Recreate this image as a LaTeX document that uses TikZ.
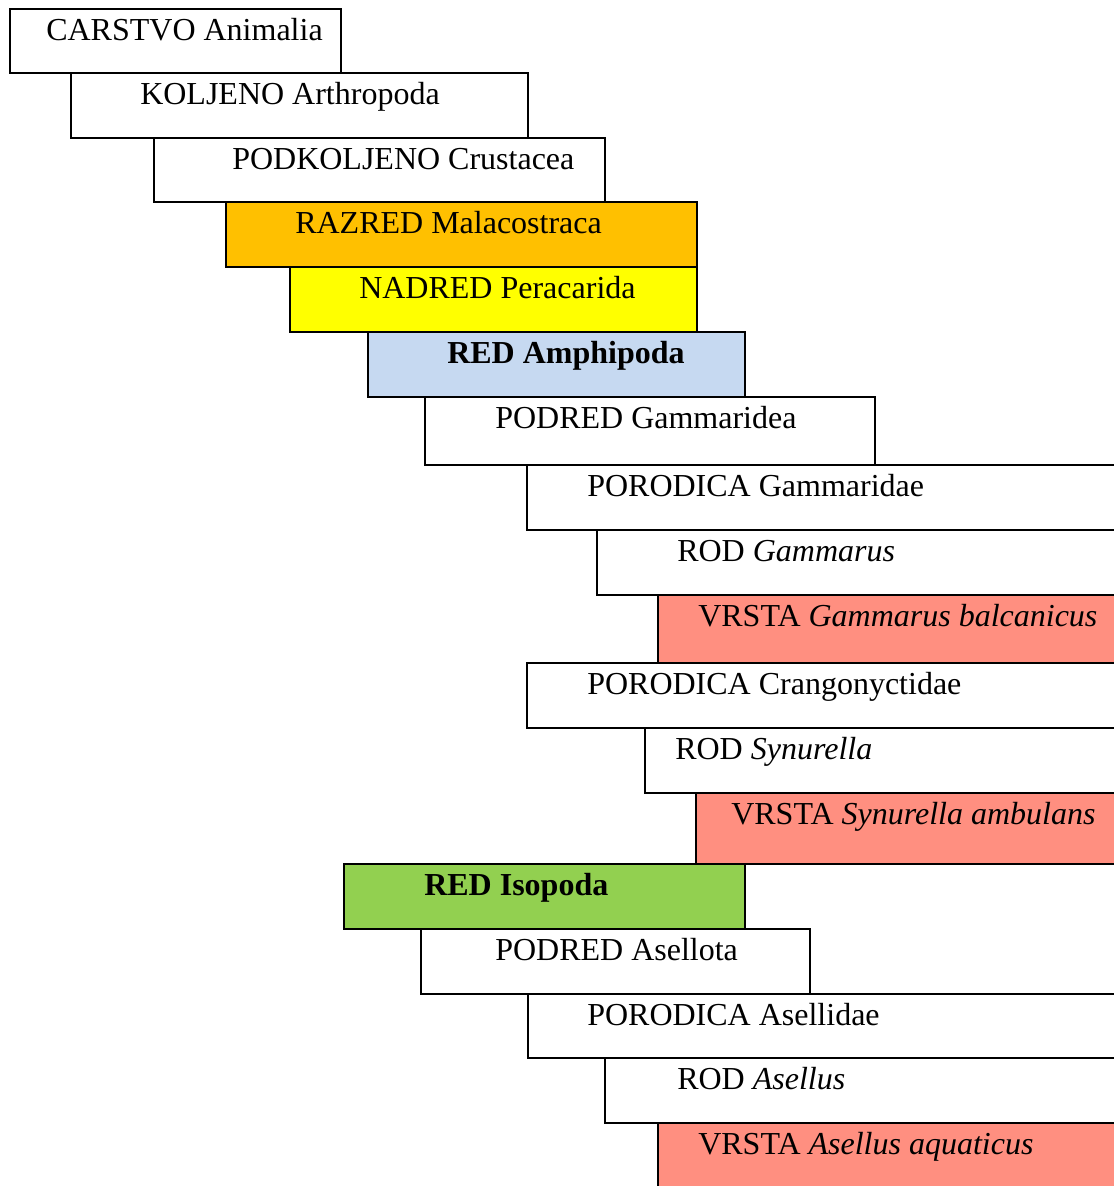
\documentclass[tikz,border=0pt]{standalone}
\usepackage{fontspec}
\setmainfont{Liberation Serif}
\definecolor{cOrange}{HTML}{FFC000}
\definecolor{cYellow}{HTML}{FFFF00}
\definecolor{cBlue}{HTML}{C6D9F1}
\definecolor{cGreen}{HTML}{92D050}
\definecolor{cSalmon}{HTML}{FF8F80}
\tikzset{
  tbox/.style={draw=black, line width=1.2pt, rectangle, inner sep=0pt, outer sep=0pt, anchor=north west},
  tlbl/.style={anchor=base west, inner sep=0pt, font=\fontsize{24}{28}\selectfont}
}
\newcommand\taxbox[8]{%
  \node[tbox, fill=#6, minimum width={(#4-#2)*0.75pt}, minimum height={(#5-#3)*0.75pt}] (b#1) at (#2,#3) {};
  \node[tlbl] (t#1) at (#7,#3+31.5) {#8};
}
\begin{document}
\begin{tikzpicture}[x=0.75pt,y=-0.75pt]
\path[use as bounding box, clip] (0,0) rectangle (1114,1186);
\fill[white] (0,0) rectangle (1114,1186);
\taxbox{1}{10}{9}{341}{73}{white}{46}{CARSTVO Animalia}
\taxbox{2}{71}{73}{528}{138}{white}{140}{KOLJENO Arthropoda}
\taxbox{3}{154}{138}{605}{202}{white}{232}{PODKOLJENO Crustacea}
\taxbox{4}{226}{202}{697}{267}{cOrange}{295}{RAZRED Malacostraca}
\taxbox{5}{290}{267}{697}{332}{cYellow}{359}{NADRED Peracarida}
\taxbox{6}{368}{332}{745}{397}{cBlue}{447}{\textbf{RED Amphipoda}}
\taxbox{7}{425}{397}{875}{465}{white}{495}{PODRED Gammaridea}
\taxbox{8}{527}{465}{1130}{530}{white}{587}{PORODICA Gammaridae}
\taxbox{9}{597}{530}{1130}{595}{white}{677}{ROD \textit{Gammarus}}
\taxbox{10}{658}{595}{1130}{663}{cSalmon}{698}{VRSTA \textit{Gammarus balcanicus}}
\taxbox{11}{527}{663}{1130}{728}{white}{587}{PORODICA Crangonyctidae}
\taxbox{12}{645}{728}{1130}{793}{white}{675}{ROD \textit{Synurella}}
\taxbox{13}{696}{793}{1130}{864}{cSalmon}{731}{VRSTA \textit{Synurella ambulans}}
\taxbox{14}{344}{864}{745}{929}{cGreen}{424}{\textbf{RED Isopoda}}
\taxbox{15}{421}{929}{810}{994}{white}{495}{PODRED Asellota}
\taxbox{16}{528}{994}{1130}{1058}{white}{587}{PORODICA Asellidae}
\taxbox{17}{605}{1058}{1130}{1123}{white}{677}{ROD \textit{Asellus}}
\taxbox{18}{658}{1123}{1130}{1200}{cSalmon}{698}{VRSTA \textit{Asellus aquaticus}}
\end{tikzpicture}
\end{document}
